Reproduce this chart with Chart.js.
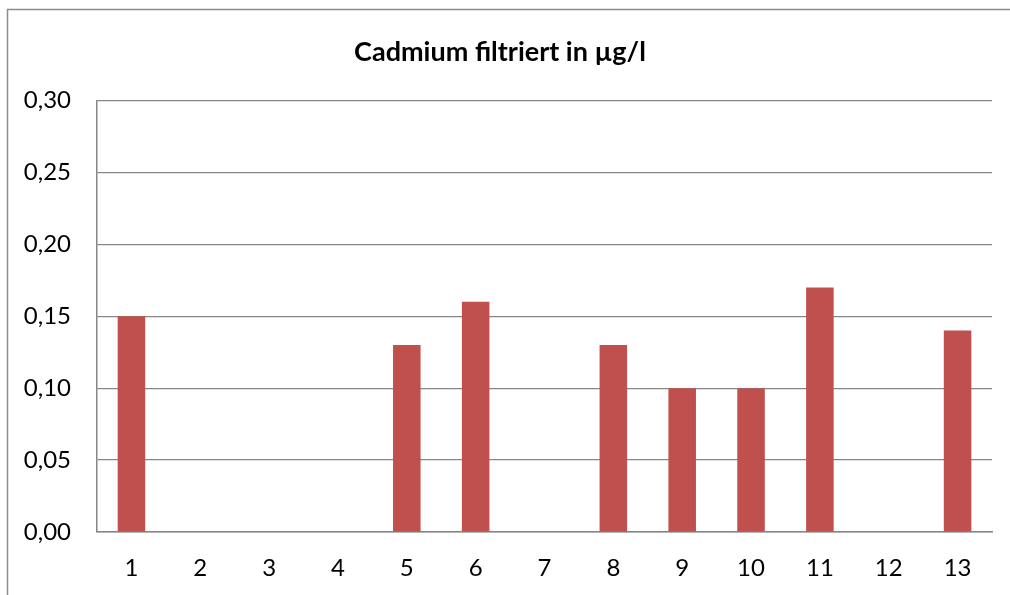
<!DOCTYPE html>
<html>
<head>
<meta charset="utf-8">
<script src="https://cdn.jsdelivr.net/npm/chart.js@4"></script>
<style>
  html, body { margin: 0; padding: 0; background: #fff; }
  #wrap { width: 1010px; height: 595px; }
</style>
</head>
<body>
<div id="wrap"><canvas id="cadmium" width="1010" height="595"></canvas></div>
<script>
const labels = ['1', '2', '3', '4', '5', '6', '7', '8', '9', '10', '11', '12', '13'];
const cadmium = [0.15, null, null, null, 0.13, 0.16, null, 0.13, 0.10, 0.10, 0.17, null, 0.14];
const yTicks = [0, 0.05, 0.10, 0.15, 0.20, 0.25, 0.30];

const fontFamily = 'Lato, Carlito, Calibri, sans-serif';

// grey frame around the whole chart, cut off at right and bottom like the original
const frame = {
    id: 'frame',
    beforeDraw(chart) {
        const c = chart.ctx;
        c.save();
        c.strokeStyle = '#8c8c8c';
        c.lineWidth = 1.5;
        c.strokeRect(7.5, 9.5, 1100, 700);
        c.restore();
    }
};

const ctx = document.getElementById('cadmium').getContext('2d');
new Chart(ctx, {
    type: 'bar',
    data: {
        labels: labels,
        datasets: [{
            label: 'Cadmium filtriert in µg/l',
            data: cadmium,
            backgroundColor: '#C0504D',
            borderWidth: 0,
            categoryPercentage: 1,
            barPercentage: 0.4
        }]
    },
    options: {
        responsive: false,
        animation: false,
        layout: { padding: { left: 8, right: 18, top: 0, bottom: 0 } },
        plugins: {
            legend: { display: false },
            tooltip: { enabled: false },
            title: {
                display: true,
                text: 'Cadmium filtriert in µg/l',
                color: '#000',
                font: { family: fontFamily, size: 27, weight: 'bold', lineHeight: 1.2 },
                padding: { top: 36, bottom: 32 }
            }
        },
        scales: {
            x: {
                grid: { display: false, drawTicks: false },
                border: { display: true, color: '#868686', width: 1.5 },
                ticks: { color: '#000', padding: 22, font: { family: fontFamily, size: 24 } },
                afterFit(scale) { scale.height = 63; }
            },
            y: {
                min: 0,
                max: 0.3,
                afterBuildTicks(scale) { scale.ticks = yTicks.map(v => ({ value: v })); },
                grid: { color: '#868686', lineWidth: 1.2, drawTicks: false },
                border: { display: true, color: '#868686', width: 1.5 },
                ticks: {
                    color: '#000',
                    padding: 26,
                    font: { family: fontFamily, size: 24 },
                    callback: v => v.toFixed(2).replace('.', ',')
                },
                afterFit(scale) { scale.width = 89; }
            }
        }
    },
    plugins: [frame]
});
</script>
</body>
</html>
